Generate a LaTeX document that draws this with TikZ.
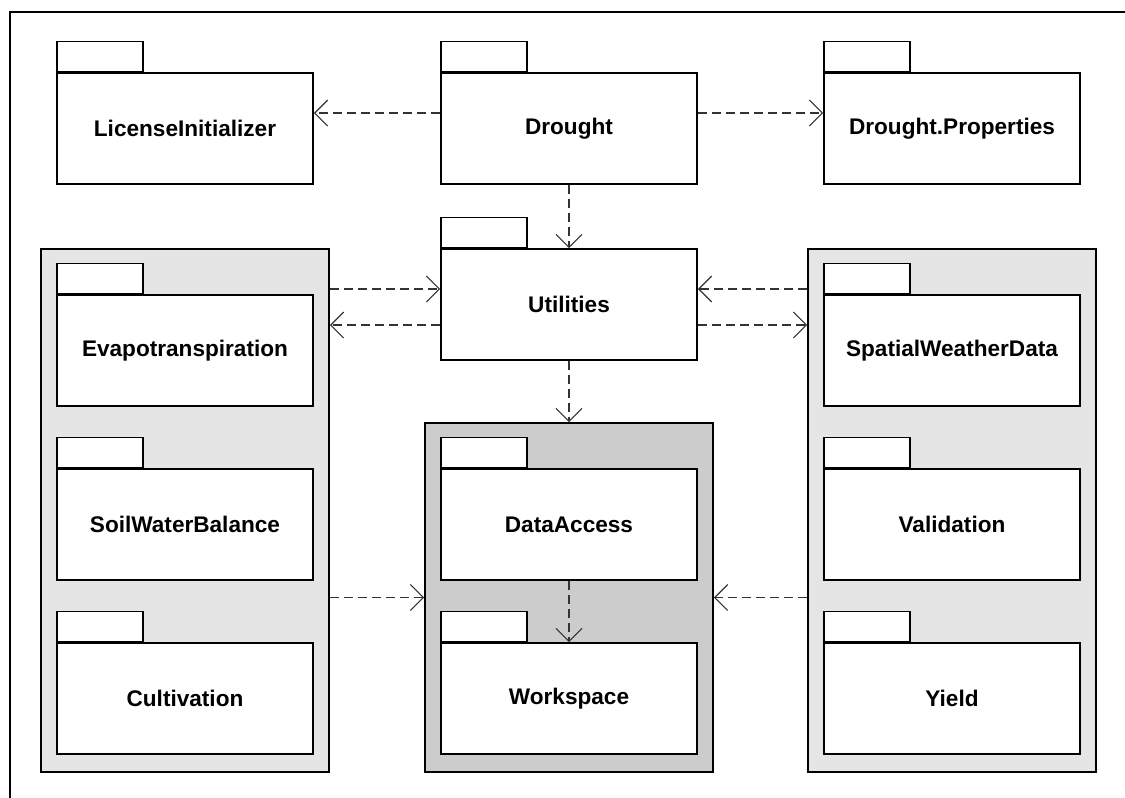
\documentclass[tikz,border=0pt]{standalone}
\usepackage{fontspec}
\setmainfont{Liberation Sans}
\usetikzlibrary{arrows.meta}

\tikzset{
  pkgbody/.style={draw, fill=white, line width=1.6pt, minimum width=256pt,
    minimum height=111pt, inner sep=0pt,
    font=\fontsize{22.6}{26}\selectfont\bfseries},
  pkgtab/.style={draw, fill=white, line width=1.6pt, minimum width=86pt,
    minimum height=30pt, inner sep=0pt, anchor=south west},
  pkggroup/.style={draw, line width=1.6pt, minimum width=288pt, inner sep=0pt},
  dep/.style={draw=black!80, line width=1.2pt, dash pattern=on 9pt off 5pt,
    -{Straight Barb[length=13pt,width=26pt,line width=1.2pt]}}
}
\newcommand{\umlpkg}[3]{%
  \node[pkgbody] (#1) at (#2) {#3};
  \node[pkgtab] (#1tab) at (#1.north west) {};}

\begin{document}
\begin{tikzpicture}[x=1pt,y=-1pt]
  \useasboundingbox (0,0) rectangle (1125,798);
  \draw[line width=1.6pt] (10,798) -- (10,12) -- (1125,12);
  % groups
  \node[pkggroup, fill=black!10, minimum height=523pt] (simgroup) at (185,510.5) {};
  \node[pkggroup, fill=black!20, minimum height=349pt] (datagroup) at (569,597.5) {};
  \node[pkggroup, fill=black!10, minimum height=523pt] (weathergroup) at (952,510.5) {};
  % packages
  \umlpkg{license}{185,128.5}{LicenseInitializer}
  \umlpkg{drought}{569,128.5}{Drought}
  \umlpkg{props}{952,128.5}{Drought.Properties}
  \umlpkg{utilities}{569,304.5}{Utilities}
  \umlpkg{evapo}{185,350.5}{Evapotranspiration}
  \umlpkg{soil}{185,524.5}{SoilWaterBalance}
  \umlpkg{cultivation}{185,698.5}{Cultivation}
  \umlpkg{dataaccess}{569,524.5}{DataAccess}
  \umlpkg{workspace}{569,698.5}{Workspace}
  \umlpkg{weather}{952,350.5}{SpatialWeatherData}
  \umlpkg{validation}{952,524.5}{Validation}
  \umlpkg{yield}{952,698.5}{Yield}
  % dependencies
  \draw[dep] ([yshift=15.5pt]drought.west) -- ([yshift=15.5pt]license.east);
  \draw[dep] ([yshift=15.5pt]drought.east) -- ([yshift=15.5pt]props.west);
  \draw[dep] (drought.south) -- (utilities.north);
  \coordinate (uin) at ([yshift=15.5pt]utilities.west);
  \coordinate (uout) at ([yshift=-20.5pt]utilities.west);
  \coordinate (vin) at ([yshift=15.5pt]utilities.east);
  \coordinate (vout) at ([yshift=-20.5pt]utilities.east);
  \draw[dep] (simgroup.east |- uin) -- (uin);
  \draw[dep] (uout) -- (simgroup.east |- uout);
  \draw[dep] (weathergroup.west |- vin) -- (vin);
  \draw[dep] (vout) -- (weathergroup.west |- vout);
  \draw[dep] (utilities.south) -- (datagroup.north);
  \draw[dep] (simgroup.east |- datagroup.west) -- (datagroup.west);
  \draw[dep] (weathergroup.west |- datagroup.east) -- (datagroup.east);
  \draw[dep] (dataaccess.south) -- (workspace.north);
\end{tikzpicture}
\end{document}
